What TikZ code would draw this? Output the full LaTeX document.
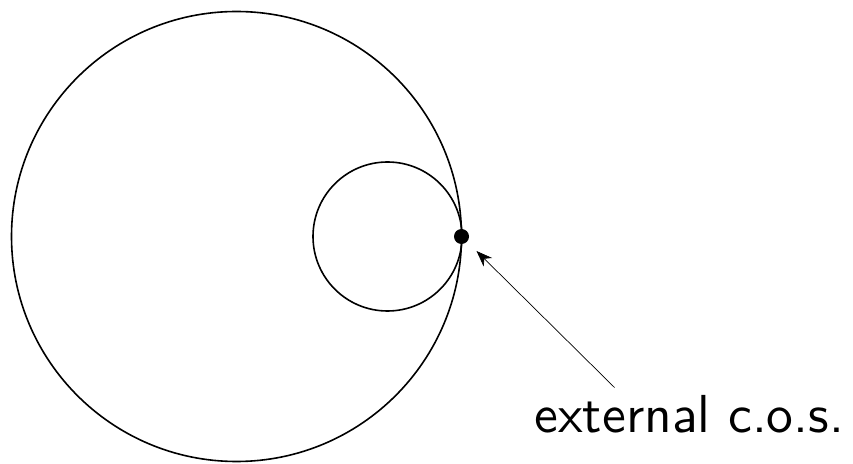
\documentclass[tikz,border=0pt]{standalone}
\usetikzlibrary{arrows.meta}
\begin{document}
\begin{tikzpicture}[x=1pt,y=1pt,
  ring/.style={draw=black,line width=1.6pt},
  pointer/.style={draw=black,line width=0.7pt,-{Stealth[length=16pt,width=12pt,inset=5pt]}},
  lbl/.style={font=\sffamily,scale=5.35,inner sep=0pt,anchor=base west}]
\useasboundingbox (0,0) rectangle (853,463);
\coordinate (C) at (236.5,226.5);
\coordinate (c) at (387.5,226.5);
\draw[ring] (C) circle[radius=225];
\draw[ring] (c) circle[radius=74.5];
\node[circle,fill=black,inner sep=0pt,minimum size=15pt] (p) at (461.5,226.5) {};
\node[lbl] (t) at (533.5,30.7) {external c.o.s.};
\coordinate (tail) at (614.5,75.5);
\coordinate (tip) at (476.5,212);
\draw[pointer] (tail) -- (tip);
\end{tikzpicture}
\end{document}
